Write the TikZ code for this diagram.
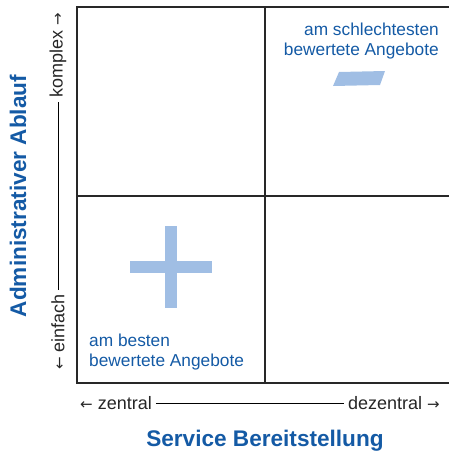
\documentclass[tikz,border=0pt]{standalone}
\usepackage{fontspec}
\setmainfont{Liberation Sans}
\newfontfamily\pfeil{DejaVu Sans}
\usepackage{xcolor}
\definecolor{titelblau}{RGB}{20,90,165}
\definecolor{hellblau}{RGB}{160,190,228}
\definecolor{rahmen}{RGB}{40,40,40}
\newcommand{\pl}{{\pfeil\fontsize{15}{12}\selectfont ←}}
\newcommand{\pr}{{\pfeil\fontsize{15}{12}\selectfont →}}

\begin{document}
\begin{tikzpicture}[x=1pt, y=-1pt,
  achse/.style={font=\fontsize{18}{20}\selectfont, text=black!85, inner sep=4pt},
  titel/.style={font=\fontsize{22.6}{26}\selectfont\bfseries, text=titelblau, inner sep=0pt},
  hinweis/.style={font=\fontsize{17.3}{20}\selectfont, text=titelblau, inner sep=0pt},
  feld/.style={draw=rahmen, line width=2.5pt}]
  \useasboundingbox (0,0) rectangle (449,456);
  % Raster
  \draw[feld] (449,7) -- (77,7) -- (77,383) -- (449,383);
  \draw[feld] (265,7) -- (265,383);
  \draw[feld] (77,196) -- (449,196);
  % Plus und Minus
  \fill[hellblau] (165,226) rectangle (177,308);
  \fill[hellblau] (130,261) rectangle (212,273);
  \fill[hellblau] (339,72) -- (385,71) -- (380,85) -- (333,86) -- cycle;
  % Hinweise
  \node[hinweis, align=right, anchor=north east] (schlecht) at (439,23) {am schlechtesten\\bewertete Angebote};
  \node[hinweis, align=left, anchor=north west] (gut) at (89,334) {am besten\\bewertete Angebote};
  % Achsen
  \node[achse, anchor=west] (zentral) at (76,403) {\pl\ zentral};
  \node[achse, anchor=east] (dezentral) at (444,403) {dezentral \pr};
  \draw[line width=0.8pt] (zentral) -- (dezentral);
  \node[achse, rotate=90, anchor=west] (einfach) at (58,374) {\pl\ einfach};
  \node[achse, rotate=90, anchor=east] (komplex) at (58,9) {komplex \pr};
  \draw[line width=0.8pt] (einfach) -- (komplex);
  % Titel
  \node[titel] (service) at (265,441) {Service Bereitstellung};
  \node[titel, rotate=90] (ablauf) at (18,196) {Administrativer Ablauf};
\end{tikzpicture}
\end{document}
